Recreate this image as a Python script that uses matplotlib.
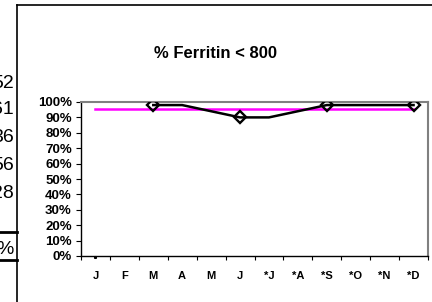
import numpy as np
import matplotlib.pyplot as plt
from matplotlib.lines import Line2D

months = ["J", "F", "M", "A", "M", "J", "*J", "*A", "*S", "*O", "*N", "*D"]
pct_ferritin = [np.nan, np.nan, 98, 98, 94, 90, 90, 94, 98, 98, 98, 98]
marked = [2, 5, 8, 11]
target = 95.5
stub_values = ["52", "61", "36", "56", "28"]

W, H = 432, 302
plt.rcParams["font.family"] = ["Liberation Sans", "DejaVu Sans"]
fig = plt.figure(figsize=(W / 100, H / 100), dpi=100)

# plot area in pixel coords
x0, x1, ytop, ybot = 81, 428, 102, 256
ax = fig.add_axes([x0 / W, 1 - ybot / H, (x1 - x0) / W, (ybot - ytop) / H])

x = np.arange(len(months)) + 0.5
ax.plot([x[0], x[-1]], [target, target], color="#ff00ff", lw=1.8, zorder=2)
ax.plot(x, pct_ferritin, color="black", lw=1.8, zorder=3)
ax.plot(x[marked], np.array(pct_ferritin)[marked], ls="none", marker="D",
        ms=6, mfc="none", mec="black", mew=1.7, zorder=4)
ax.plot([x[0]], [-0.6], ls="none", marker="s", ms=1.2, color="black",
        clip_on=False)

ax.set_xlim(0, len(months))
ax.set_ylim(0, 100)
ax.set_yticks(np.arange(0, 101, 10))
ax.set_yticklabels([f"{v}%" for v in range(0, 101, 10)], fontsize=9.5,
                   fontweight="bold")
ax.set_xticks(np.arange(0, len(months) + 1))
ax.set_xticklabels([])
ax.set_xticks(x, minor=True)
ax.set_xticklabels(months, minor=True, fontsize=8, fontweight="bold")
ax.tick_params(axis="x", which="minor", length=0, pad=11)
ax.tick_params(axis="x", which="major", length=3, width=0.8, direction="out")
ax.tick_params(axis="y", length=3.6, width=0.8, direction="out", pad=3)

for side in ["top", "right"]:
    ax.spines[side].set_color("#808080")
    ax.spines[side].set_linewidth(1.5)
for side in ["left", "bottom"]:
    ax.spines[side].set_color("black")
    ax.spines[side].set_linewidth(1.0)

fig.text(216 / W, 1 - 54 / H, "% Ferritin < 800", ha="center", va="center",
         fontsize=12, fontweight="bold")

# outer chart frame
fig.add_artist(Line2D([17 / W, 17 / W], [0, 1 - 5 / H], color="black",
                      lw=1.2, transform=fig.transFigure))
fig.add_artist(Line2D([17 / W, 1], [1 - 5 / H, 1 - 5 / H], color="black",
                      lw=1.2, transform=fig.transFigure))

# cut-off table remnants on the left
for i, s in enumerate(stub_values):
    yy = [83, 109, 137, 165, 193][i]
    fig.text(14 / W, 1 - yy / H, s, ha="right", va="center", fontsize=14)
fig.text(14 / W, 1 - 249 / H, "%", ha="right", va="center", fontsize=14)
for yy in [232, 260]:
    fig.add_artist(Line2D([0, 17 / W], [1 - yy / H, 1 - yy / H],
                          color="black", lw=2, transform=fig.transFigure))

fig.savefig("out.png", dpi=100)
